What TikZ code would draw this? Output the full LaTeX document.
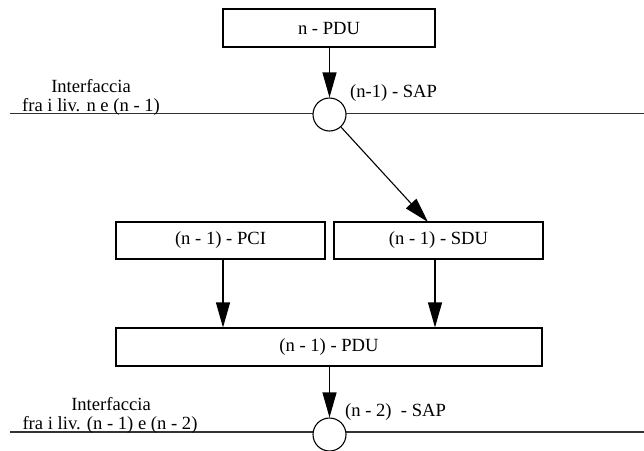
\documentclass[tikz,border=0pt]{standalone}
\usepackage{fontspec}
\setmainfont{Liberation Serif}
\usetikzlibrary{arrows.meta}
\begin{document}
\begin{tikzpicture}[x=1pt,y=-1pt,
  every node/.style={font=\fontsize{18.6}{22}\selectfont},
  pdubox/.style={draw,line width=1.1pt,rectangle,inner sep=0pt},
  sap/.style={draw,line width=1.1pt,circle,fill=white,minimum size=33pt,inner sep=0pt},
  flow/.style={line width=1.1pt,-{Triangle[length=25pt,width=14pt]}},
  iface/.style={line width=1.3pt,draw=black!80},
  lbl/.style={anchor=base,inner sep=0pt}]
\useasboundingbox (0,0) rectangle (644,450);

% interface between layer n and n-1
\coordinate (l1w) at (10,113.5);
\coordinate (l1e) at (644,113.5);
\draw[iface] (l1w) -- (l1e);
\node[lbl] (if1a) at (91,92) {Interfaccia};
\node[lbl] (if1b) at (91,111.3) {fra i liv. n e (n - 1)};

% interface between layer n-1 and n-2
\coordinate (l2w) at (10,432);
\coordinate (l2e) at (644,432);
\draw[iface] (l2w) -- (l2e);
\node[lbl] (if2a) at (111,410) {Interfaccia};
\node[lbl] (if2b) at (110,429.3) {fra i liv. (n - 1) e (n - 2)};

% data units
\node[pdubox,minimum width=212pt,minimum height=38pt] (npdu) at (329,28) {n - PDU};
\node[pdubox,minimum width=209pt,minimum height=37pt] (pci) at (220.5,240.5) {(n - 1) - PCI};
\node[pdubox,minimum width=209pt,minimum height=37pt] (sdu) at (438.5,240.5) {(n - 1) - SDU};
\node[pdubox,minimum width=426pt,minimum height=38pt] (pdu) at (329,347) {(n - 1) - PDU};

% service access points
\node[sap] (sap1) at (329.5,114.5) {};
\node[sap] (sap2) at (329.5,434.5) {};
\node[anchor=base west,inner sep=0pt] (sap1l) at (350,97) {(n-1) - SAP};
\node[anchor=base west,inner sep=0pt] (sap2l) at (345,416) {(n - 2)~ - SAP};

% flow of data units
\coordinate (sduin) at (428,222);
\draw[flow] (npdu.south -| sap1) -- (sap1.north);
\draw[flow] (sap1) -- (sduin);
\draw[flow] ([xshift=2.5pt]pci.south) -- ([xshift=2.5pt]pci.south |- pdu.north);
\draw[flow] ([xshift=-3.5pt]sdu.south) -- ([xshift=-3.5pt]sdu.south |- pdu.north);
\draw[flow] (pdu.south -| sap2) -- (sap2.north);
\end{tikzpicture}
\end{document}
